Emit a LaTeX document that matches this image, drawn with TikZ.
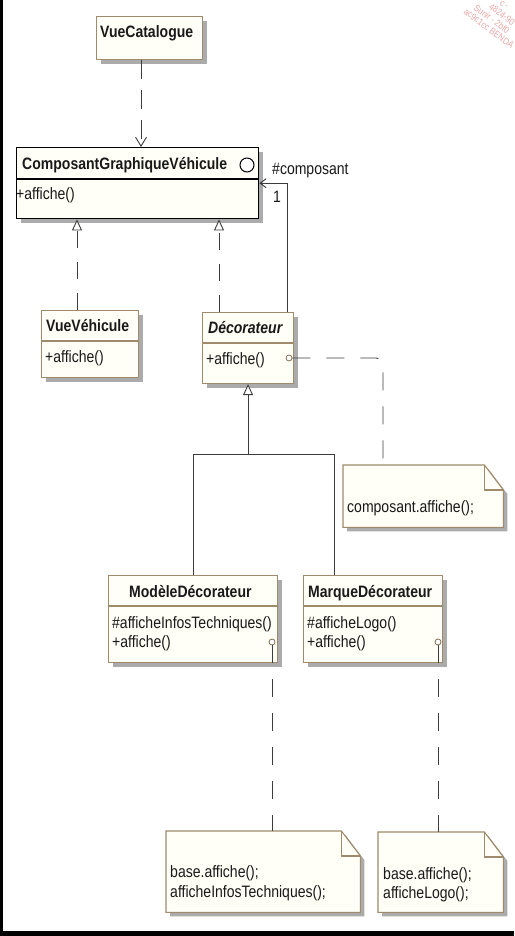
\documentclass[tikz,border=0pt]{standalone}
\usepackage{fontspec}
\setmainfont{Liberation Sans}[FakeStretch=0.85]
\usetikzlibrary{shadows,arrows.meta}
\definecolor{boxborder}{HTML}{9F8B6B}
\definecolor{boxfill}{HTML}{FFFFF7}
\definecolor{shadowgray}{HTML}{ABABAB}
\definecolor{linegray}{HTML}{3C3C3C}
\definecolor{wmark}{HTML}{E9A8A8}
\newcommand\umlnote[1]{%
  \fill[shadowgray] ([shift={(4pt,-4pt)}]#1.south west) -- ([shift={(4pt,-4pt)}]#1.north west) -- ([shift={(-15pt,-4pt)}]#1.north east) -- ([shift={(4pt,-29pt)}]#1.north east) -- ([shift={(4pt,-4pt)}]#1.south east) -- cycle;
  \filldraw[draw=boxborder, fill=boxfill, line width=1.1pt] (#1.south west) -- (#1.north west) -- ([xshift=-19pt]#1.north east) -- ([yshift=-25pt]#1.north east) -- (#1.south east) -- cycle;
  \draw[boxborder, line width=1.1pt] ([xshift=-19pt]#1.north east) |- ([yshift=-25pt]#1.north east);}
\begin{document}
\begin{tikzpicture}[x=1pt,y=-1pt,
  every node/.style={font=\fontsize{16.5}{19}\selectfont, text=black!90, inner sep=0pt},
  cls/.style={draw=boxborder, line width=1.1pt, fill=boxfill, anchor=north west, rectangle,
    drop shadow={shadow xshift=4pt, shadow yshift=-4pt, fill=shadowgray, opacity=1}},
  notebox/.style={draw=none, anchor=north west, rectangle},
  txt/.style={anchor=base west},
  ttl/.style={anchor=base west, font=\fontsize{16.5}{19}\selectfont\bfseries},
  wm/.style={anchor=base west, rotate=-37, text=wmark, font=\fontsize{9.5}{11}\selectfont},
  divider/.style={draw=boxborder, line width=1.1pt},
  dep/.style={draw=linegray, line width=0.9pt, dash pattern=on 19pt off 11pt, -{Straight Barb[length=9pt,width=11pt]}},
  real/.style={draw=linegray, line width=0.9pt, dash pattern=on 17pt off 14pt, -{Triangle[open,length=11pt,width=10pt,fill=white]}},
  gen/.style={draw=linegray, line width=0.9pt, -{Triangle[open,length=11pt,width=10pt,fill=white]}},
  solid line/.style={draw=linegray, line width=0.9pt},
  assoc/.style={draw=linegray, line width=0.9pt, -{Straight Barb[length=6pt,width=9pt]}},
  nlink/.style={draw=linegray, line width=0.9pt, dash pattern=on 18pt off 16pt},
  port/.style={circle, draw=boxborder!80!black, line width=0.8pt, minimum size=6pt, fill=white}]
\useasboundingbox (0,0) rectangle (514,936);
\fill[white] (0,0) rectangle (514,936);
% watermark (cut by the page edge)
\node[wm] (wm1) at (463,13) {ac9c1cc BENDA};
\node[wm] (wm2) at (473,9) {Sunir - 2bf0};
\node[wm] (wm3) at (488,8) {4824-90};
\node[wm] (wm4) at (499,4) {c -};
% helper coordinates
\coordinate (x77) at (77,0);
\coordinate (x141) at (141,0);
\coordinate (x219) at (219,0);
\coordinate (x287) at (287,0);
\coordinate (x334) at (334,0);
\coordinate (x383) at (383,0);
\coordinate (j) at (247.5,454);
% classes
\node[cls, minimum width=106pt, minimum height=43pt] (vc) at (96,16) {};
\node[ttl] (tvc) at (100,38) {VueCatalogue};

\node[cls, draw=black, line width=1.4pt, minimum width=242pt, minimum height=71pt] (cg) at (16,147) {};
\draw[black, line width=1.2pt] (cg.west |- 0,179) -- (cg.east |- 0,179);
\node[ttl] (tcg) at (22,170) {ComposantGraphiqueVéhicule};
\node[circle, draw=black, line width=1pt, minimum size=14pt, fill=white] (ico) at (247,165) {};
\node[txt] (mcg) at (16,200) {+affiche()};

\node[cls, minimum width=97pt, minimum height=67pt] (vv) at (41,310) {};
\draw[divider] (vv.west |- 0,341) -- (vv.east |- 0,341);
\node[ttl] (tvv) at (46,331) {VueVéhicule};
\node[txt] (mvv) at (45,362) {+affiche()};

\node[cls, minimum width=91pt, minimum height=71pt] (dec) at (202,312) {};
\draw[divider] (dec.west |- 0,343) -- (dec.east |- 0,343);
\node[ttl, font=\fontsize{16.5}{19}\selectfont\bfseries\itshape] (tdec) at (208,333) {Décorateur};
\node[txt] (mdec) at (206,364) {+affiche()};
\node[port] (k1) at (289,358) {};

\node[cls, minimum width=169pt, minimum height=87pt] (md) at (108,575) {};
\draw[divider] (md.west |- 0,606) -- (md.east |- 0,606);
\node[ttl] (tmd) at (129,597) {ModèleDécorateur};
\node[txt] (m1md) at (112,628) {\#afficheInfosTechniques()};
\node[txt] (m2md) at (112,647) {+affiche()};
\node[port] (k2) at (272,642) {};

\node[cls, minimum width=139pt, minimum height=87pt] (mq) at (303,575) {};
\draw[divider] (mq.west |- 0,606) -- (mq.east |- 0,606);
\node[ttl] (tmq) at (308,597) {MarqueDécorateur};
\node[txt] (m1mq) at (307,628) {\#afficheLogo()};
\node[txt] (m2mq) at (307,647) {+affiche()};
\node[port] (k3) at (438,642) {};

% notes
\node[notebox, minimum width=160pt, minimum height=62pt] (n1) at (343,465) {};
\umlnote{n1}
\node[txt] (tn1) at (347,512) {composant.affiche();};

\node[notebox, minimum width=194pt, minimum height=81pt] (n2) at (166,831) {};
\umlnote{n2}
\node[txt] (tn2a) at (170,877) {base.affiche();};
\node[txt] (tn2b) at (170,897) {afficheInfosTechniques();};

\node[notebox, minimum width=125pt, minimum height=80pt] (n3) at (378,832) {};
\umlnote{n3}
\node[txt] (tn3a) at (383,879) {base.affiche();};
\node[txt] (tn3b) at (383,898) {afficheLogo();};

% connectors
\draw[dep] (x141 |- vc.south) -- (x141 |- cg.north);
\draw[real] (x77 |- vv.north) -- (x77 |- cg.south);
\draw[real] (x219 |- dec.north) -- (x219 |- cg.south);
\draw[assoc] (x287 |- dec.north) |- (cg.east);
\node[txt] (lcomp) at (272,175) {\#composant};
\node[txt] (lmult) at (273,202) {1};
\draw[gen] (dec.south |- j) -- (dec.south);
\draw[solid line] (md.north) |- (x334 |- j) -- (x334 |- mq.north);
\draw[nlink, rounded corners=7pt] (k1.east) -| (x383 |- n1.north);
\draw[nlink] (k2.south) -- (k2.south |- n2.north);
\draw[nlink] (k3.south) -- (k3.south |- n3.north);
% frame edges
\fill[black] (0,0) rectangle (3,936);
\fill[black] (0,931) rectangle (514,936);
\end{tikzpicture}
\end{document}
